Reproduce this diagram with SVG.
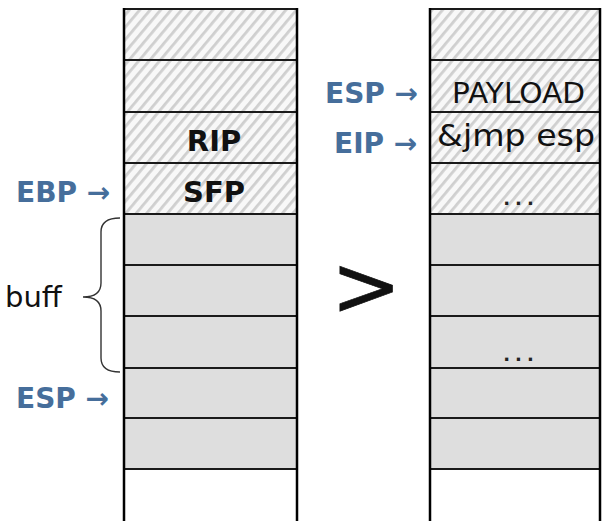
<svg xmlns="http://www.w3.org/2000/svg" width="603" height="524" viewBox="0 0 603 524">
  <defs>
    <pattern id="hatch" patternUnits="userSpaceOnUse" width="8" height="8" patternTransform="rotate(40)">
      <rect width="8" height="8" fill="#f8f8f8"/>
      <rect x="0" y="0" width="2.8" height="8" fill="#cfcfcf"/>
    </pattern>
  </defs>
  <style>
    .h { fill: url(#hatch); }
    .g { fill: #dedede; }
    .hl { stroke: #1a1a1a; stroke-width: 2; fill: none; }
    .vl { stroke: #000; stroke-width: 2.5; fill: none; }
    .bold { font-family: "DejaVu Sans", Verdana, sans-serif; font-weight: bold; fill: #111; }
    .reg { font-family: "DejaVu Sans", Verdana, sans-serif; fill: #111; }
    .dots { font-family: "DejaVu Sans", Verdana, sans-serif; font-weight: bold; font-size: 18px; letter-spacing: 5px; fill: #222; }
    .ptr { font-family: "DejaVu Sans", Verdana, sans-serif; font-weight: bold; font-size: 28px; fill: #466e9b; }
    .brace { stroke: #333; stroke-width: 1.4; fill: none; }
  </style>
  <rect width="603" height="524" fill="#fff"/>

  <!-- left stack -->
  <g id="left-stack">
    <g id="L0"><rect class="h" x="124" y="8" width="173" height="52"/></g>
    <g id="L1"><rect class="h" x="124" y="60" width="173" height="52"/></g>
    <g id="L2"><rect class="h" x="124" y="112" width="173" height="51"/>
      <text class="bold" x="214" y="151" font-size="29" text-anchor="middle">RIP</text></g>
    <g id="L3"><rect class="h" x="124" y="163" width="173" height="51"/>
      <text class="bold" x="214" y="202" font-size="29" text-anchor="middle">SFP</text></g>
    <g id="L4"><rect class="g" x="124" y="214" width="173" height="51"/></g>
    <g id="L5"><rect class="g" x="124" y="265" width="173" height="51"/></g>
    <g id="L6"><rect class="g" x="124" y="316" width="173" height="52"/></g>
    <g id="L7"><rect class="g" x="124" y="368" width="173" height="50"/></g>
    <g id="L8"><rect class="g" x="124" y="418" width="173" height="51"/></g>
    <path class="hl" d="M124,9H297M124,60H297M124,112H297M124,163H297M124,214H297M124,265H297M124,316H297M124,368H297M124,418H297M124,469H297"/>
    <path class="vl" d="M124,8V521M297,8V521"/>
  </g>

  <!-- right stack -->
  <g id="right-stack">
    <g id="R0"><rect class="h" x="430" y="8" width="170" height="52"/></g>
    <g id="R1"><rect class="h" x="430" y="60" width="170" height="52"/>
      <text class="reg" x="452" y="103" font-size="29" textLength="133" lengthAdjust="spacingAndGlyphs">PAYLOAD</text></g>
    <g id="R2"><rect class="h" x="430" y="112" width="170" height="51"/>
      <text class="reg" x="437" y="146" font-size="31" textLength="158" lengthAdjust="spacingAndGlyphs">&amp;jmp esp</text></g>
    <g id="R3"><rect class="h" x="430" y="163" width="170" height="51"/>
      <text class="dots" x="521" y="205" text-anchor="middle">...</text></g>
    <g id="R4"><rect class="g" x="430" y="214" width="170" height="51"/></g>
    <g id="R5"><rect class="g" x="430" y="265" width="170" height="51"/></g>
    <g id="R6"><rect class="g" x="430" y="316" width="170" height="52"/>
      <text class="dots" x="521" y="361" text-anchor="middle">...</text></g>
    <g id="R7"><rect class="g" x="430" y="368" width="170" height="50"/></g>
    <g id="R8"><rect class="g" x="430" y="418" width="170" height="51"/></g>
    <path class="hl" d="M430,9H600M430,60H600M430,112H600M430,163H600M430,214H600M430,265H600M430,316H600M430,368H600M430,418H600M430,469H600"/>
    <path class="vl" d="M430,8V521M600,8V521"/>
  </g>

  <!-- pointer labels -->
  <g id="label-ebp"><text class="ptr" x="16" y="202">EBP →</text></g>
  <g id="label-esp-left"><text class="ptr" x="16" y="408">ESP →</text></g>
  <g id="label-esp-right"><text class="ptr" x="325" y="103">ESP →</text></g>
  <g id="label-eip"><text class="ptr" x="334" y="153">EIP →</text></g>

  <g id="label-buff"><text class="reg" x="5" y="307" font-size="29">buff</text></g>
  <g id="gt"><text class="reg" x="331" y="315" font-size="84" stroke="#111" stroke-width="0.7">&gt;</text></g>

  <g id="connectors">
    <path class="brace" d="M120,218 C108,218 101,222 101,232 L101,283 C101,292 95,297 83,297 C95,297 101,302 101,311 L101,358 C101,368 108,372 120,372"/>
  </g>
</svg>
